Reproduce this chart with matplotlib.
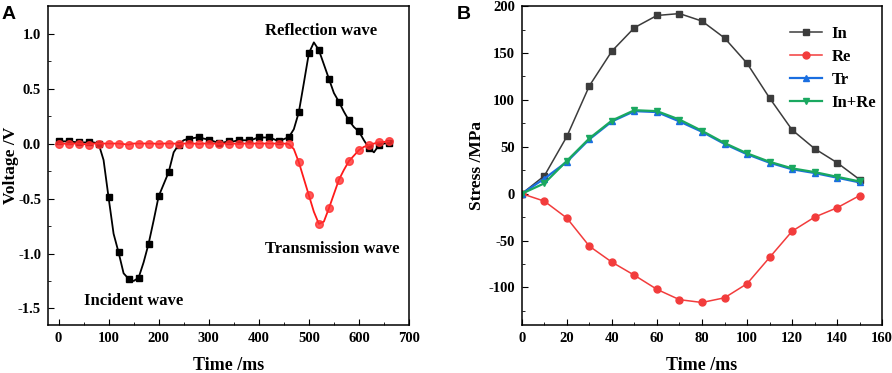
import numpy as np
import matplotlib
matplotlib.use("Agg")
import matplotlib.pyplot as plt

plt.rcParams['font.family'] = ['Liberation Serif', 'DejaVu Serif']
plt.rcParams['font.weight'] = 'bold'
plt.rcParams['axes.unicode_minus'] = False

# ---- panel A: voltage signals ----
t_mark = np.arange(0, 661, 20)
inc_mark = [0.02, 0.02, 0.01, 0.01, 0.0, -0.49, -0.99, -1.23, -1.22, -0.91, -0.48, -0.26,
            -0.01, 0.045, 0.058, 0.036, 0.005, 0.02, 0.03, 0.03, 0.058, 0.055, 0.02, 0.058,
            0.285, 0.82, 0.85, 0.59, 0.38, 0.21, 0.11, -0.04, -0.015, 0.005]
tr_mark = [0.0, -0.005, 0.0, -0.01, 0.0, 0.0, 0.0, -0.01, 0.0, 0.0, -0.005, 0.0,
           -0.005, 0.0, -0.005, 0.0, -0.005, 0.0, -0.005, 0.0, 0.0, 0.0, 0.0, -0.005,
           -0.17, -0.47, -0.73, -0.59, -0.33, -0.16, -0.06, -0.015, 0.01, 0.02]

t_line = np.arange(0, 661, 10)
inc_line = [0.02, 0.02, 0.02, 0.015, 0.01, 0.01, 0.01, 0.01, 0.0, -0.15,
            -0.49, -0.82, -0.99, -1.18, -1.23, -1.25, -1.22, -1.08, -0.91, -0.70,
            -0.48, -0.37, -0.26, -0.08, -0.01, 0.03, 0.045, 0.05, 0.058, 0.045,
            0.036, 0.02, 0.005, 0.01, 0.02, 0.02, 0.03, 0.03, 0.03, 0.04,
            0.058, 0.055, 0.055, 0.04, 0.02, 0.04, 0.058, 0.13, 0.285, 0.55,
            0.82, 0.92, 0.85, 0.72, 0.59, 0.46, 0.38, 0.29, 0.21, 0.15,
            0.11, 0.03, -0.04, -0.08, -0.015, 0.0, 0.005]
tr_line = [0.0, 0.0, -0.005, 0.0, 0.0, -0.005, -0.01, 0.0, 0.0, 0.0,
           0.0, 0.0, 0.0, -0.005, -0.01, 0.0, 0.0, 0.0, 0.0, 0.0,
           -0.005, 0.0, 0.0, 0.0, -0.005, 0.0, 0.0, 0.0, -0.005, 0.0,
           0.0, 0.0, -0.005, 0.0, 0.0, 0.0, -0.005, 0.0, 0.0, 0.0,
           0.0, 0.0, 0.0, 0.0, 0.0, 0.0, -0.005, -0.05, -0.17, -0.32,
           -0.47, -0.62, -0.73, -0.71, -0.59, -0.46, -0.33, -0.24, -0.16, -0.11,
           -0.06, -0.03, -0.015, 0.0, 0.01, 0.015, 0.02]

# ---- panel B: stress ----
tb = np.arange(0, 151, 10)
s_in = [0, 19, 61, 115, 152, 177, 190, 192, 184, 166, 139, 102, 68, 48, 33, 15]
s_re = [0, -8, -26, -56, -73, -87, -102, -113, -116, -111, -96, -68, -40, -25, -15, -2]
s_tr = [0, 16, 34, 58, 77, 88, 87, 77, 66, 53, 42, 33, 26, 22, 17, 12]
s_sum = [0, 11, 35, 59, 78, 89, 88, 79, 67, 54, 43, 34, 27, 23, 18, 13]

fig = plt.figure(figsize=(8.92, 3.73), dpi=100)
axA = fig.add_axes([0.0538, 0.1287, 0.4047, 0.855])
axB = fig.add_axes([0.585, 0.1287, 0.404, 0.855])

for ax in (axA, axB):
    ax.tick_params(which='both', direction='in', top=False, right=False, labelsize=10.5)
    ax.tick_params(which='major', length=4, pad=5)
    ax.tick_params(which='minor', length=2)
    for s in ax.spines.values():
        s.set_linewidth(1.1)

axA.plot(t_line, inc_line, color='black', lw=1.3)
axA.plot(t_mark, inc_mark, 's', color='black', ms=4.5)
axA.plot(t_line, tr_line, color='#ff1a1a', lw=1.3)
axA.plot(t_mark, tr_mark, 'o', color='#ff3030', ms=5.5, alpha=0.8)
axA.set_xlim(-21, 700)
axA.set_ylim(-1.65, 1.25)
axA.set_xticks(np.arange(0, 701, 100))
axA.set_xticks(np.arange(50, 700, 100), minor=True)
axA.set_yticks([-1.5, -1.0, -0.5, 0.0, 0.5, 1.0])
axA.set_yticks(np.arange(-1.25, 1.2, 0.5), minor=True)
axA.set_xlabel('Time /ms', fontsize=13, fontweight='bold')
axA.set_ylabel('Voltage /V', fontsize=12.5, fontweight='bold')
axA.xaxis.set_label_coords(0.5, -0.1)
axA.yaxis.set_label_coords(-0.08, 0.5)
axA.text(413, 1.02, 'Reflection wave', fontsize=12, fontweight='bold', va='center')
axA.text(413, -0.955, 'Transmission wave', fontsize=12, fontweight='bold', va='center')
axA.text(51, -1.436, 'Incident wave', fontsize=12, fontweight='bold', va='center')
fig.text(0.002, 0.985, 'A', fontsize=14, fontweight='bold', family='Liberation Sans', va='top')

axB.plot(tb, s_in, '-s', color='#3c3c3c', lw=1.1, ms=5, label='In')
axB.plot(tb, s_re, '-o', color='#f23c3c', lw=1.1, ms=5, label='Re')
axB.plot(tb, s_tr, '-^', color='#1a6ee0', lw=1.6, ms=5, label='Tr')
axB.plot(tb, s_sum, '-v', color='#1aa860', lw=1.6, ms=5, label='In+Re')
axB.set_xlim(0, 160)
axB.set_ylim(-140, 200)
axB.set_xticks(np.arange(0, 161, 20))
axB.set_xticks(np.arange(10, 160, 20), minor=True)
axB.set_yticks(np.arange(-100, 201, 50))
axB.set_yticks(np.arange(-125, 200, 50), minor=True)
axB.set_xlabel('Time /ms', fontsize=13, fontweight='bold')
axB.set_ylabel('Stress /MPa', fontsize=12.5, fontweight='bold')
axB.xaxis.set_label_coords(0.5, -0.1)
axB.yaxis.set_label_coords(-0.102, 0.5)
axB.legend(loc='upper right', frameon=False, fontsize=12, handlelength=1.9,
           handletextpad=0.6, labelspacing=0.42, borderaxespad=0.2,
           bbox_to_anchor=(1.012, 0.97))
fig.text(0.512, 0.985, 'B', fontsize=14, fontweight='bold', family='Liberation Sans', va='top')

fig.savefig('out.png', dpi=100)
